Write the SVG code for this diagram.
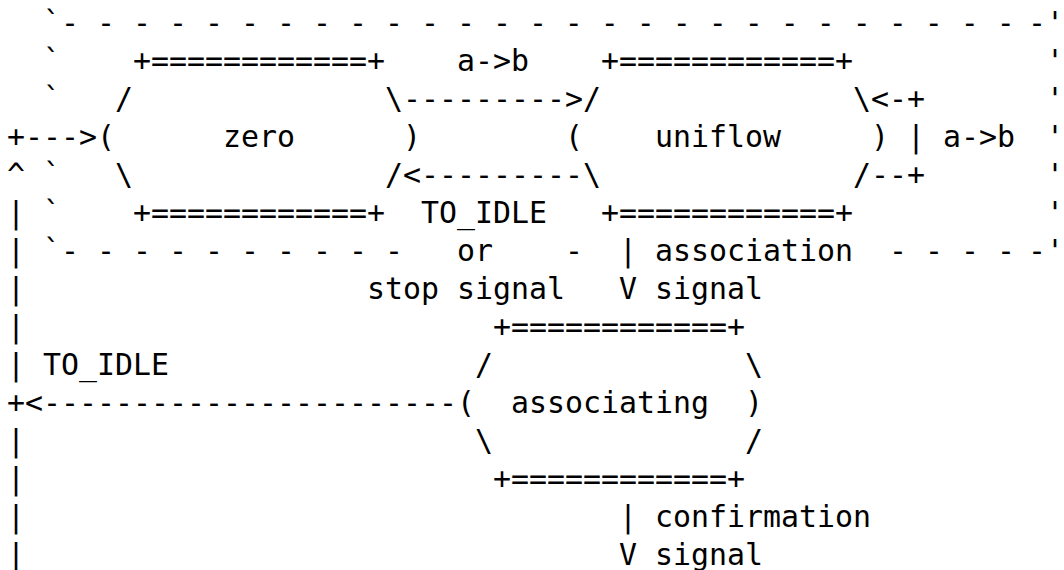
<svg xmlns="http://www.w3.org/2000/svg" width="1064" height="570" viewBox="0 0 1064 570">
<style>
text { font-family: "DejaVu Sans Mono", "Liberation Mono", monospace; font-size: 29.9px; fill: #000; white-space: pre; }
.q { text-anchor: end; }
</style>
<rect width="1064" height="570" fill="#fff"/>
<g id="boundary" xml:space="preserve">
<text x="43" y="33">`- - - - - - - - - - - - - - - - - - - - - - - - - - -</text><text x="1028" y="33">-</text><text class="q" x="1064" y="33">'</text>
<text x="43" y="71">`</text><text class="q" x="1064" y="71">'</text>
<text x="43" y="109">`</text><text class="q" x="1064" y="109">'</text>
<text class="q" x="1064" y="147">'</text>
<text x="43" y="185">`</text><text class="q" x="1064" y="185">'</text>
<text x="43" y="223">`</text><text class="q" x="1064" y="223">'</text>
<text x="43" y="261">`- - - - - - - - - -</text><text x="565" y="261">-</text><text x="889" y="261">- - - -</text><text x="1028" y="261">-</text><text class="q" x="1064" y="261">'</text>
</g>
<g id="node-zero">
<text x="133" y="71">+============+</text>
<text x="115" y="109">/</text><text x="385" y="109">\</text>
<text x="97" y="147">(</text><text x="223" y="147">zero</text><text x="403" y="147">)</text>
<text x="115" y="185">\</text><text x="385" y="185">/</text>
<text x="133" y="223">+============+</text>
</g>
<g id="node-uniflow">
<text x="601" y="71">+============+</text>
<text x="583" y="109">/</text><text x="853" y="109">\</text>
<text x="565" y="147">(</text><text x="655" y="147">uniflow</text><text x="871" y="147">)</text>
<text x="583" y="185">\</text><text x="853" y="185">/</text>
<text x="601" y="223">+============+</text>
</g>
<g id="node-associating">
<text x="493" y="337">+============+</text>
<text x="475" y="375">/</text><text x="745" y="375">\</text>
<text x="457" y="413">(</text><text x="511" y="413">associating</text><text x="745" y="413">)</text>
<text x="475" y="451">\</text><text x="745" y="451">/</text>
<text x="493" y="489">+============+</text>
</g>
<g id="connectors">
<text x="403" y="109">---------&gt;</text>
<text x="403" y="185">&lt;---------</text>
<text x="871" y="109">&lt;-+</text>
<text x="907" y="147">|</text>
<text x="871" y="185">--+</text>
<text x="7" y="147">+---&gt;</text>
<text x="7" y="185">^</text>
<text x="7" y="223">|</text>
<text x="7" y="261">|</text>
<text x="7" y="299">|</text>
<text x="7" y="337">|</text>
<text x="7" y="375">|</text>
<text x="7" y="413">+&lt;-----------------------</text>
<text x="7" y="451">|</text>
<text x="7" y="489">|</text>
<text x="7" y="527">|</text>
<text x="7" y="565">|</text>
<text x="619" y="261">|</text>
<text x="619" y="299">V</text>
<text x="619" y="527">|</text>
<text x="619" y="565">V</text>
</g>
<g id="labels">
<text x="457" y="71">a-&gt;b</text>
<text x="943" y="147">a-&gt;b</text>
<text x="421" y="223">TO_IDLE</text>
<text x="457" y="261">or</text>
<text x="367" y="299">stop signal</text>
<text x="655" y="261">association</text>
<text x="655" y="299">signal</text>
<text x="43" y="375">TO_IDLE</text>
<text x="655" y="527">confirmation</text>
<text x="655" y="565">signal</text>
</g>
</svg>
